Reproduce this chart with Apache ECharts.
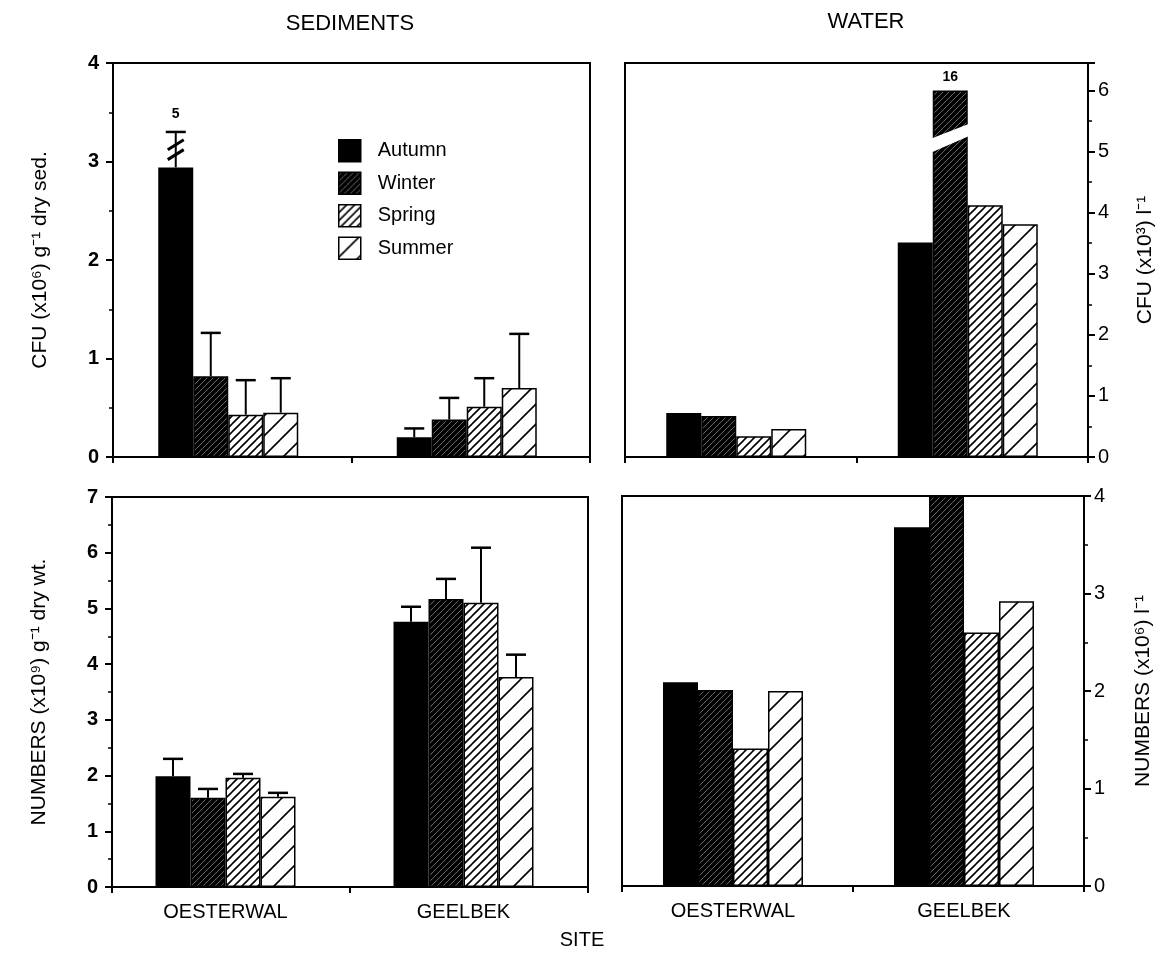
<!DOCTYPE html>
<html><head><meta charset="utf-8">
<script src="https://cdn.jsdelivr.net/npm/echarts@6/dist/echarts.min.js"></script>
<style>html,body{margin:0;padding:0;background:#fff}#c{width:1165px;height:977px}</style>
</head><body><div id="c"></div>
<script>
// ---------- DATA ----------
const sites = ['OESTERWAL', 'GEELBEK'];
const seasons = ['Autumn', 'Winter', 'Spring', 'Summer'];

// Sediments: CFU (x10^6) g-1 dry sed. (drawn heights; Autumn Oesterwal truncated, true value 5)
const sedCfuOesterwal = [2.94, 0.82, 0.43, 0.45];
const sedCfuGeelbek   = [0.20, 0.38, 0.51, 0.70];
const sedCfuErrOesterwal = [3.30, 1.26, 0.78, 0.80];
const sedCfuErrGeelbek   = [0.29, 0.60, 0.80, 1.25];
const sedCfuActualOesterwal = [5, null, null, null];
const sedCfuBreakMarks = [3.07, 3.17];

// Water: CFU (x10^3) l-1 (Winter Geelbek truncated, true value 16)
const watCfuOesterwal = [0.72, 0.67, 0.34, 0.46];
const watCfuGeelbek   = [3.51, 6.00, 4.12, 3.81];
const watCfuActualGeelbek = [null, 16, null, null];
const watCfuGapLower = [4.98, 5.26];  // left/right edge of lower piece top
const watCfuGapUpper = [5.21, 5.46];  // left/right edge of upper piece bottom

// Sediments: NUMBERS (x10^9) g-1 dry wt.
const sedNumOesterwal = [1.99, 1.60, 1.96, 1.62];
const sedNumGeelbek   = [4.76, 5.17, 5.10, 3.77];
const sedNumErrOesterwal = [2.30, 1.76, 2.03, 1.69];
const sedNumErrGeelbek   = [5.03, 5.53, 6.09, 4.17];

// Water: NUMBERS (x10^6) l-1
const watNumOesterwal = [2.09, 2.01, 1.41, 2.00];
const watNumGeelbek   = [3.68, 4.00, 2.60, 2.92];

// Axis ranges
const yMax = [4, 6.45, 7, 4];

// ---------- STYLE ----------
const FONT = '"Liberation Sans", Arial, Helvetica, sans-serif';
const BAR_W = 35, CAP_W = 20;

function hatch(size, lw) {
  const c = document.createElement('canvas');
  c.width = c.height = size;
  const g = c.getContext('2d');
  g.fillStyle = '#fff'; g.fillRect(0, 0, size, size);
  g.strokeStyle = '#000'; g.lineWidth = lw; g.lineCap = 'square';
  g.beginPath();
  for (let k = -1; k <= 1; k++) { g.moveTo(k * size, size); g.lineTo(k * size + size, 0); }
  g.stroke();
  return c;
}
const fills = [
  '#000',
  { image: hatch(6, 3.9), repeat: 'repeat' },
  { image: hatch(8, 1.6), repeat: 'repeat' },
  { image: hatch(20, 1.6), repeat: 'repeat' }
];

const panels = [
  { oest: sedCfuOesterwal, geel: sedCfuGeelbek, errO: sedCfuErrOesterwal, errG: sedCfuErrGeelbek, actO: sedCfuActualOesterwal },
  { oest: watCfuOesterwal, geel: watCfuGeelbek, actG: watCfuActualGeelbek },
  { oest: sedNumOesterwal, geel: sedNumGeelbek, errO: sedNumErrOesterwal, errG: sedNumErrGeelbek },
  { oest: watNumOesterwal, geel: watNumGeelbek }
];

// frame grids (axes + box) and bar grids (same vertical scale, bars sit slightly left of centre as in the original)
const frameBoxes = [
  { left: 113, top: 63, width: 477, height: 394 },
  { left: 625, top: 63, width: 463, height: 394 },
  { left: 112, top: 497, width: 476, height: 390 },
  { left: 622, top: 496, width: 462, height: 390 }
];
const barShift = [-4, -4.5, -5.5, -4.5];
const grids = frameBoxes.map(g => Object.assign({}, g, { show: true, borderColor: '#000', borderWidth: 2, backgroundColor: 'transparent' }))
  .concat(frameBoxes.map((g, i) => Object.assign({}, g, { left: g.left + barShift[i], show: false })));

const xAxes = [];
frameBoxes.forEach((g, i) => xAxes.push({
  type: 'category', gridIndex: i, data: sites,
  axisLine: { show: true, lineStyle: { color: '#000', width: 2 } },
  axisTick: { show: true, length: 6, lineStyle: { color: '#000', width: 2 } },
  axisLabel: { show: false },
  splitLine: { show: false }
}));
frameBoxes.forEach((g, i) => xAxes.push({
  type: 'category', gridIndex: i + 4, data: sites,
  axisLine: { show: false }, axisTick: { show: false },
  axisLabel: { show: i >= 2, color: '#000', fontSize: 20, fontFamily: FONT, margin: 15 },
  splitLine: { show: false }
}));

function yAxis(i, pos, name, nameGap, showMax) {
  return {
    type: 'value', gridIndex: i, min: 0, max: yMax[i], interval: 1, position: pos,
    name: name, nameLocation: 'middle', nameGap: nameGap, nameRotate: 90,
    nameTextStyle: { color: '#000', fontSize: 21, fontFamily: FONT },
    axisLine: { show: true, lineStyle: { color: '#000', width: 2 } },
    axisTick: { show: true, length: 7, lineStyle: { color: '#000', width: 2 } },
    minorTick: { show: true, splitNumber: 2, length: 4, lineStyle: { color: '#000', width: 1.5 } },
    axisLabel: { color: '#000', fontSize: 20, fontFamily: FONT, fontWeight: pos === 'left' ? 'bold' : 'normal', margin: pos === 'left' ? 14 : 10, showMaxLabel: showMax },
    splitLine: { show: false }
  };
}
const yAxes = [
  yAxis(0, 'left', 'CFU (x10⁶) g⁻¹ dry sed.', 62, true),
  yAxis(1, 'right', 'CFU (x10³) l⁻¹', 47, false),
  yAxis(2, 'left', 'NUMBERS (x10⁹) g⁻¹ dry wt.', 62, true),
  yAxis(3, 'right', 'NUMBERS (x10⁶) l⁻¹', 49, true)
].concat([0, 1, 2, 3].map(i => ({ type: 'value', gridIndex: i + 4, min: 0, max: yMax[i], show: false, splitLine: { show: false } })));

const series = [];
panels.forEach((p, pi) => {
  const ax = pi + 4;
  seasons.forEach((s, si) => {
    const mk = (v, act) => (act != null ? {
      value: v,
      label: { show: true, position: 'top', distance: 6, formatter: String(act), color: '#000', fontSize: 14, fontWeight: 'bold', fontFamily: FONT }
    } : v);
    series.push({
      type: 'bar', name: s, xAxisIndex: ax, yAxisIndex: ax,
      barWidth: BAR_W, barGap: '0%',
      itemStyle: { color: fills[si], borderColor: '#000', borderWidth: 1.5 },
      emphasis: { disabled: true },
      data: [mk(p.oest[si], null), mk(p.geel[si], p.actG ? p.actG[si] : null)],
      z: 2
    });
  });
  if (p.errO) {
    const rows = [];
    [0, 1].forEach(site => seasons.forEach((s, si) => {
      const v = site === 0 ? p.oest[si] : p.geel[si];
      const e = site === 0 ? p.errO[si] : p.errG[si];
      rows.push([site, si, v, e]);
    }));
    const act = p.actO;
    series.push({
      type: 'custom', xAxisIndex: ax, yAxisIndex: ax, z: 3, silent: true,
      encode: { x: 0, y: [2, 3] },
      data: rows,
      renderItem: (params, api) => {
        const site = api.value(0), si = api.value(1);
        const b = api.coord([site, api.value(2)]);
        const t = api.coord([site, api.value(3)]);
        const x = b[0] + (si - 1.5) * BAR_W;
        const ch = [
          { type: 'line', shape: { x1: x, y1: b[1], x2: x, y2: t[1] }, style: { stroke: '#000', lineWidth: 2 } },
          { type: 'line', shape: { x1: x - CAP_W / 2, y1: t[1], x2: x + CAP_W / 2, y2: t[1] }, style: { stroke: '#000', lineWidth: 2.5 } }
        ];
        if (act && site === 0 && act[si] != null) {
          ch.push({ type: 'text', x: x, y: t[1] - 18, style: { text: String(act[si]), align: 'center', verticalAlign: 'middle', textAlign: 'center', textVerticalAlign: 'middle', fontSize: 14, fontWeight: 'bold', fontFamily: FONT, fill: '#000' } });
        }
        return { type: 'group', children: ch };
      }
    });
  }
});

// break marks on the Autumn Oesterwal sediment error bar
series.push({
  type: 'custom', xAxisIndex: 4, yAxisIndex: 4, z: 4, silent: true,
  encode: { x: 0, y: 2 },
  data: sedCfuBreakMarks.map(v => [0, 0, v]),
  renderItem: (params, api) => {
    const c = api.coord([api.value(0), api.value(2)]);
    const x = c[0] + (api.value(1) - 1.5) * BAR_W;
    return { type: 'line', shape: { x1: x - 8, y1: c[1] + 5, x2: x + 8, y2: c[1] - 5 }, style: { stroke: '#000', lineWidth: 3 } };
  }
});

// white gap (axis break) in the Winter Geelbek water CFU bar
series.push({
  type: 'custom', xAxisIndex: 5, yAxisIndex: 5, z: 4, silent: true,
  encode: { x: 0, y: [2, 3, 4, 5] },
  data: [[1, 1, watCfuGapLower[0], watCfuGapLower[1], watCfuGapUpper[0], watCfuGapUpper[1]]],
  renderItem: (params, api) => {
    const site = api.value(0), si = api.value(1);
    const xc = api.coord([site, 0])[0] + (si - 1.5) * BAR_W;
    const xl = xc - BAR_W / 2 - 2, xr = xc + BAR_W / 2 + 2;
    const y = v => api.coord([site, v])[1];
    return {
      type: 'polygon',
      shape: { points: [[xl, y(api.value(2))], [xr, y(api.value(3))], [xr, y(api.value(5))], [xl, y(api.value(4))]] },
      style: { fill: '#fff', stroke: null }
    };
  }
});

const txt = (t, x, y, size) => ({
  type: 'text', x: x, y: y, silent: true,
  style: { text: t, align: 'center', verticalAlign: 'middle', textAlign: 'center', textVerticalAlign: 'middle', fontSize: size, fontFamily: FONT, fill: '#000' }
});

const option = {
  animation: false,
  backgroundColor: '#fff',
  grid: grids,
  xAxis: xAxes,
  yAxis: yAxes,
  legend: {
    data: seasons, orient: 'vertical', left: 333, top: 134,
    itemWidth: 22, itemHeight: 22, itemGap: 9, icon: 'rect',
    selectedMode: false,
    itemStyle: { borderColor: '#000', borderWidth: 1.5 },
    textStyle: { color: '#000', fontSize: 20, fontFamily: FONT, padding: [0, 0, 0, 12] }
  },
  graphic: [
    txt('SEDIMENTS', 350, 24, 22),
    txt('WATER', 866, 22, 22),
    txt('SITE', 582, 940, 20)
  ],
  series: series
};

echarts.init(document.getElementById('c'), null, { renderer: 'canvas' }).setOption(option);
</script>
</body></html>
